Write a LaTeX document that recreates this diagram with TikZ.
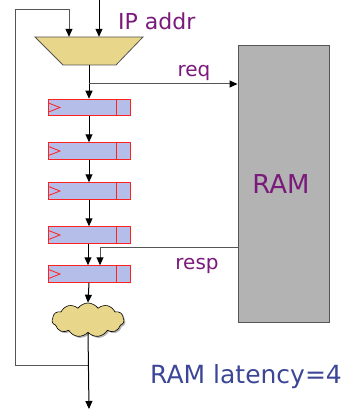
\documentclass[tikz,border=0pt]{standalone}
\usepackage{fontspec}
\setmainfont{DejaVu Sans}
\usetikzlibrary{arrows.meta,shapes.symbols,shadows}
\definecolor{muxfill}{HTML}{E8D68A}
\definecolor{regfill}{HTML}{B4BEE8}
\definecolor{regred}{HTML}{FF2020}
\definecolor{ramfill}{HTML}{B3B3B3}
\definecolor{lblpurple}{HTML}{7A1A7A}
\definecolor{lblblue}{HTML}{3C4696}
\definecolor{wire}{HTML}{555555}
\tikzset{
  regbox/.style={draw=regred, line width=1pt, fill=regfill, minimum width=82pt, minimum height=16.5pt, inner sep=0pt,
    path picture={
      \draw[regred, line width=0.8pt] ([xshift=-14pt]path picture bounding box.north east) -- ([xshift=-14pt]path picture bounding box.south east);
      \draw[regred, line width=0.8pt] ([yshift=4.7pt]path picture bounding box.west) -- ([xshift=12pt]path picture bounding box.west) -- ([yshift=-4.7pt]path picture bounding box.west);
    }},
  arr/.style={-{Triangle[length=8pt,width=7pt,color=black]}, line width=1pt, black},
  garr/.style={-{Triangle[length=8pt,width=7pt,color=black]}, line width=1pt, wire},
  lbl/.style={font=\fontsize{20}{24}\selectfont, text=lblpurple, inner sep=0pt, anchor=base},
}
\begin{document}
\begin{tikzpicture}[x=1pt,y=-1pt]
\useasboundingbox (0,0) rectangle (346,409);
% mux
\node[minimum width=108pt, minimum height=28pt, inner sep=0pt] (mux) at (89,51) {};
\draw[draw=wire, line width=0.8pt, fill=muxfill] (35,37) -- (143,37) -- (116,65) -- (63,65) -- cycle;
% registers
\node[regbox] (r1) at (89,107.5) {};
\node[regbox] (r2) at (89,151) {};
\node[regbox] (r3) at (89,191) {};
\node[regbox] (r4) at (89,235) {};
\node[regbox] (r5) at (89,274) {};
% RAM
\node[draw=wire, line width=1pt, fill=ramfill, minimum width=91pt, minimum height=276pt, inner sep=0pt] (ram) at (283.5,184) {};
\node[font=\fontsize{26}{30}\selectfont, text=lblpurple, inner sep=0pt, anchor=base] (ramtxt) at (281,193) {RAM};
% cloud
\node[cloud, cloud puffs=11, cloud puff arc=110, aspect=2.1, draw=black, line width=0.6pt, fill=muxfill,
  minimum width=72pt, minimum height=34pt, inner sep=0pt,
  drop shadow={shadow xshift=1.5pt, shadow yshift=-1.5pt, opacity=0.6}] (cloud) at (88,320) {};
% coordinates
\coordinate (inL) at (69,10);
\coordinate (inR) at (99,0);
\coordinate (reqb) at (89,84);
\coordinate (respb) at (100,247);
\coordinate (fb) at (89,365);
\coordinate (out) at (89,409);
% inputs
\draw[arr] (inR) -- (inR |- mux.north);
\draw[garr] (fb) -- (15,365) -- (15,10) -- (inL) -- (inL |- mux.north);
% pipeline
\draw[arr] (89,65) -- (r1.north);
\draw[garr] (reqb) -- (reqb -| ram.west);
\draw[arr] (r1.south) -- (r2.north);
\draw[arr] (r2.south) -- (r3.north);
\draw[arr] (r3.south) -- (r4.north);
\draw[arr] (r4.south -| 88,0) -- (88,0 |- r5.north);
\draw[garr] (respb -| ram.west) -- (respb) -- (respb |- r5.north);
\draw[arr] (r5.south) -- (cloud.north);
\draw[arr] (cloud.south) -- (out);
% labels
\node[lbl, font=\fontsize{22}{26}\selectfont, anchor=base west] (ip) at (118,30) {IP addr};
\node[lbl] (req) at (194,77) {req};
\node[lbl] (resp) at (197,269) {resp};
\node[lbl, text=lblblue, font=\fontsize{25}{29}\selectfont, anchor=base west] (lat) at (150,383) {RAM latency=4};
\end{tikzpicture}
\end{document}
